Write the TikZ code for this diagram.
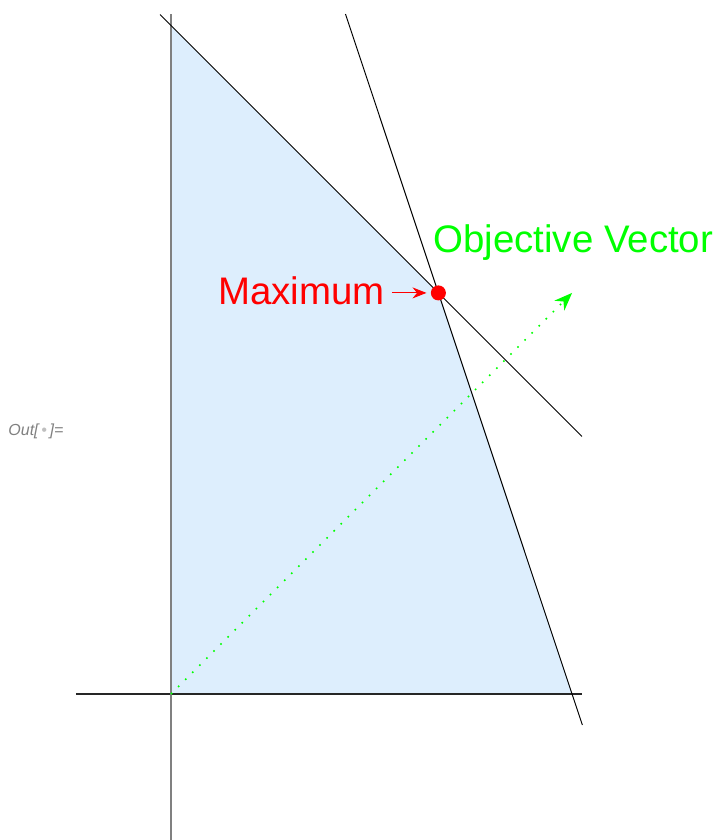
\documentclass[tikz,border=0pt]{standalone}
\usepackage{fontspec}
\setmainfont{Liberation Sans}
\usepackage{tikz}
\usetikzlibrary{arrows.meta,positioning,calc}
\definecolor{regB}{HTML}{DDEEFD}
\definecolor{objG}{HTML}{00FF00}
\definecolor{maxR}{HTML}{FF0000}

\begin{document}
\begin{tikzpicture}[x=66.85pt,y=66.85pt,every node/.style={font=\fontsize{19.2}{22}\selectfont,inner sep=0pt}]
  \useasboundingbox (-1.279,-1.092) rectangle (4.076,5.191);
  % feasible region
  \fill[regB] (0,0) -- (0,5) -- (2,3) -- (3,0) -- cycle;
  % axes
  \draw[black!85,line width=0.7pt] (-0.711,0) -- (3.074,0);
  \draw[gray,line width=1pt] (0,-1.092) -- (0,5.086);
  % constraints x+y=5 and 3x+y=9
  \draw[line width=0.5pt] (-0.082,5.082) -- (3.074,1.926);
  \draw[line width=0.5pt] (1.305,5.086) -- (3.077,-0.232);
  % objective direction
  \coordinate (o) at (0,0);
  \coordinate (v) at (3,3);
  \draw[objG,line width=0.8pt,dash pattern=on 0.8pt off 4.2pt,-{Stealth[length=9pt,width=7pt]}] (o) -- (v);
  \node[objG,anchor=base west] (objlbl) at (1.96,3.306) {Objective Vector};
  % optimum
  \node[circle,fill=maxR,minimum size=7.5pt] (max) at (2,3) {};
  \node[maxR,anchor=base east] (maxlbl) at (1.60,2.91) {Maximum};
  \draw[maxR,line width=0.5pt,shorten <=3.5pt,shorten >=2pt,-{Stealth[length=7pt,width=5.5pt]}] (maxlbl.east |- max) -- (max);
  \node[gray,font=\fontsize{8}{9}\selectfont\itshape,anchor=west] (outlbl) at (-1.219,1.967) {Out[\,{\color{lightgray}•}\,]=};
\end{tikzpicture}
\end{document}
